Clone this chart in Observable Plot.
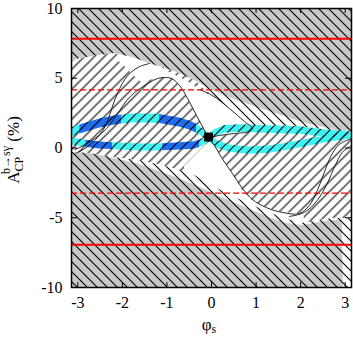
<!DOCTYPE html>
<html><head><meta charset="utf-8">
<script src="https://cdn.jsdelivr.net/npm/d3@7"></script>
<script src="https://cdn.jsdelivr.net/npm/@observablehq/plot@0.6"></script>
<style>body{margin:0;background:#fff}svg{display:block}</style>
</head><body><div id="chart"></div>
<script>
const PI = Math.PI;
const xDomain = [-PI, PI];
const yDomain = [-10, 10];
const xTicks = [-3, -2, -1, 0, 1, 2, 3];
const yTicks = [-10, -5, 0, 5, 10];

// excluded (gray) region boundaries
const grayUpX = [-PI, -2.955, -2.507, -2.172, -1.769, -1.388, -1.097, -0.716, -0.336, 0.022, 0.560, 1.298, 2.037, 2.798, PI];
const grayUpY = [6.13, 6.42, 6.63, 6.77, 6.49, 6.06, 5.77, 5.34, 4.77, 4.12, 3.41, 2.62, 1.83, 1.25, 1.18];
const grayLoX = [-PI, -2.731, -2.283, -1.679, -1.097, -0.560, -0.201, 0.179, 0.560, 0.918, 1.298, 1.679, 2.037, 2.418, 2.709, 2.933, 2.96, PI];
const grayLoY = [-0.32, -0.39, -0.68, -1.11, -1.76, -2.40, -2.90, -3.48, -3.98, -4.48, -4.98, -5.41, -5.56, -5.34, -5.20, -5.20, -10, -10];

// "\\" hatched region boundaries
const hatchUpX = [-PI, -2.955, -2.507, -2.172, -1.769, -1.388, -1.097, -0.716, -0.336, -0.201, 0.022, 0.403, 0.739, 0.918, 1.10, 1.50, 1.97, 2.64, PI];
const hatchUpY = [6.13, 6.42, 6.63, 6.77, 6.49, 6.06, 5.77, 5.34, 4.77, 4.30, 3.76, 2.83, 1.90, 1.45, 1.55, 1.60, 1.55, 1.25, 1.10];
const hatchLoX = [-PI, -2.731, -2.283, -1.679, -1.164, -0.716, -0.381, -0.157, 0.179, 0.560, 0.918, 1.298, 1.679, 2.037, 2.418, 2.709, PI];
const hatchLoY = [-0.32, -0.39, -0.62, -0.90, -1.20, -1.60, -1.95, -2.40, -3.00, -3.60, -4.10, -4.65, -5.10, -5.40, -5.20, -5.05, -5.05];

// allowed (unhatched) lenses
const lensAX = [-2.104, -1.948, -1.724, -1.567, -1.388, -1.097, -0.895, -0.716, -0.537, -0.336, -0.112, 0, 0.291, 0.627, 0.851, 0.963];
const lensALo = [6.27, 5.84, 5.13, 4.70, 4.84, 5.05, 5.05, 4.48, 3.55, 2.33, 1.04, 0.75, 0.90, 1.04, 1.18, 1.33];
const lensAHi = [6.70, 6.70, 6.56, 6.34, 6.06, 5.70, 5.34, 5.05, 4.77, 4.34, 3.91, 3.76, 3.19, 2.26, 1.68, 1.40];
const lensBX = [-0.604, -0.381, -0.157, 0, 0.179, 0.470, 0.694, 0.918, 1.231, 1.589, 1.970, 2.082];
const lensBHi = [-1.33, -0.61, 0.11, 0.54, -0.39, -1.83, -3.05, -3.76, -4.27, -4.62, -4.70, -4.91];
const lensBLo = [-1.97, -2.47, -2.90, -3.19, -3.55, -3.98, -4.27, -4.55, -4.91, -5.27, -5.48, -5.48];

// thin contour curves
const curve1X = [-3.045, -2.843, -2.619, -2.440, -2.328, -2.239, -2.149, -2.059, -1.948, -1.813, -1.612, -1.388];
const curve1Y = [-0.39, -0.04, 0.54, 1.25, 1.97, 2.83, 3.62, 4.27, 4.91, 5.41, 5.84, 6.06];
const curve2X = [-3.067, -2.955, -2.798, -2.619, -2.351, -2.216, -2.059, -1.903, -1.724, -1.567, -1.388, -1.209, -1.052, -0.895, -0.716, -0.537, -0.336, -0.179, -0.067, 0.067, 0.224, 0.470, 0.694, 0.918, 1.231, 1.589, 1.970, 2.194, 2.373, 2.530, 2.686, 2.866, PI];
const curve2Y = [-0.11, 0.04, 0.32, 0.68, 1.40, 1.97, 2.69, 3.41, 3.98, 4.34, 4.70, 4.98, 5.05, 4.98, 4.48, 3.55, 2.33, 1.40, 0.75, 0.18, -0.68, -1.83, -2.90, -3.69, -4.27, -4.62, -4.70, -4.12, -3.05, -1.76, -0.54, 0.25, 0.68];
const curve3X = [-0.269, 0.022, 0.403, 0.739, 0.918, 0.851, 0.515, 0.179, -0.067];
const curve3Y = [4.19, 3.76, 2.83, 1.90, 1.40, 1.18, 1.04, 0.90, 0.75];
const curve4X = [1.746, 2.082, 2.373, 2.597, 2.776, 2.933, PI];
const curve4Y = [-4.91, -4.62, -3.76, -2.54, -1.25, -0.32, 0.18];

// reference lines
const redSolid = [7.83, -6.94];
const redDashed = [4.17, -3.24];

// bands: centre, half-width, dark-blue stretches
const bandAX = [-PI, -2.955, -2.731, -2.507, -2.172, -2.015, -1.769, -1.388, -1.164, -1.097, -0.716, -0.492, -0.336, -0.269, -0.067, 0.134, 0.403, 0.851, 1.298, 1.746, 2.194, 2.642, PI];
const bandAY = [1.11, 1.33, 1.54, 1.76, 1.97, 2.04, 2.11, 2.11, 2.08, 2.04, 1.83, 1.61, 1.40, 1.25, 0.75, 0.25, -0.04, -0.18, -0.11, 0.11, 0.39, 0.68, 0.90];
const bandAW = [0.32, 0.32, 0.32, 0.32, 0.32, 0.32, 0.32, 0.32, 0.32, 0.32, 0.32, 0.32, 0.32, 0.30, 0.28, 0.27, 0.26, 0.26, 0.26, 0.26, 0.25, 0.25, 0.25];
const bandABlue = [[-2.955, -2.015], [-1.164, -0.336]];
const bandBX = [-PI, -2.843, -2.507, -2.059, -1.612, -1.164, -0.716, -0.381, -0.201, -0.067, 0.067, 0.291, 0.627, 1.231, 1.970, 2.530, PI];
const bandBY = [0.47, 0.32, 0.18, 0.11, 0.04, 0.04, 0.11, 0.18, 0.39, 0.68, 1.04, 1.33, 1.40, 1.33, 1.25, 1.04, 0.90];
const bandBW = [0.25, 0.25, 0.25, 0.25, 0.25, 0.25, 0.26, 0.27, 0.27, 0.27, 0.27, 0.27, 0.27, 0.27, 0.27, 0.26, 0.25];
const bandBBlue = [[-2.82, -2.22], [-1.097, -0.269]];

// best-fit point
const pointX = [-0.067];
const pointY = [0.79];

const CYAN = "#3cf4f4", BLUE = "#1e6ef2", GRAY = "#c8c8c8";
const FONT = "'Liberation Serif', 'Times New Roman', serif";

const tbl = (xs, ys) => xs.map((x, i) => ({x, y: ys[i]}));
const tbl3 = (xs, lo, hi) => xs.map((x, i) => ({x, lo: lo[i], hi: hi[i]}));

function bandRows(xs, ys, ws, blue, name) {
  let pts = xs.map((x, i) => ({x, y: ys[i], w: ws[i]}));
  for (const b of blue.flat()) {
    for (let i = 0; i < pts.length - 1; i++) {
      const a = pts[i], c = pts[i + 1];
      if (a.x < b && b < c.x) {
        const t = (b - a.x) / (c.x - a.x);
        pts.splice(i + 1, 0, {x: b, y: a.y + t * (c.y - a.y), w: a.w + t * (c.w - a.w)});
        break;
      }
    }
  }
  const edges = [xs[0], ...blue.flat(), xs[xs.length - 1]];
  const rows = [];
  for (let k = 0; k < edges.length - 1; k++) {
    const lo = edges[k], hi = edges[k + 1];
    const color = k % 2 === 1 ? BLUE : CYAN;
    for (const p of pts) if (p.x >= lo - 1e-9 && p.x <= hi + 1e-9)
      rows.push({x: p.x, lo: p.y - p.w, hi: p.y + p.w, seg: name + k, color});
  }
  return rows;
}
const bands = [...bandRows(bandAX, bandAY, bandAW, bandABlue, "A"), ...bandRows(bandBX, bandBY, bandBW, bandBBlue, "B")];

const W = 353, H = 338, mL = 71, mR = 2, mT = 8, mB = 51;
const fw = W - mL - mR, fh = H - mT - mB;

const svg = Plot.plot({
  width: W, height: H,
  marginLeft: mL, marginRight: mR, marginTop: mT, marginBottom: mB,
  style: {fontFamily: FONT, fontSize: "16px", background: "white", color: "black"},
  x: {domain: xDomain},
  y: {domain: yDomain},
  marks: [
    Plot.frame({fill: "url(#hatchF)"}),
    Plot.areaY(tbl3(lensAX, lensALo, lensAHi), {x: "x", y1: "lo", y2: "hi", fill: "white", clip: true}),
    Plot.areaY(tbl3(lensBX, lensBLo, lensBHi), {x: "x", y1: "lo", y2: "hi", fill: "white", clip: true}),
    Plot.areaY(tbl(hatchUpX, hatchUpY), {x: "x", y1: "y", y2: yDomain[1], fill: "white", clip: true}),
    Plot.areaY(tbl(hatchLoX, hatchLoY), {x: "x", y1: yDomain[0], y2: "y", fill: "white", clip: true}),
    Plot.areaY(tbl(grayUpX, grayUpY), {x: "x", y1: "y", y2: yDomain[1], fill: GRAY, clip: true}),
    Plot.areaY(tbl(grayLoX, grayLoY), {x: "x", y1: yDomain[0], y2: "y", fill: GRAY, clip: true}),
    Plot.areaY(tbl(hatchUpX, hatchUpY), {x: "x", y1: "y", y2: yDomain[1], fill: "url(#hatchB)", clip: true}),
    Plot.areaY(tbl(hatchLoX, hatchLoY), {x: "x", y1: yDomain[0], y2: "y", fill: "url(#hatchB)", clip: true}),
    Plot.areaY(bands, {x: "x", y1: "lo", y2: "hi", z: "seg", fill: "color", clip: true}),
    Plot.areaY(bands, {x: "x", y1: "lo", y2: "hi", z: "seg", fill: "url(#hatchF)", clip: true}),
    Plot.line(tbl(curve1X, curve1Y), {x: "x", y: "y", stroke: "#111", strokeWidth: 0.9, curve: "catmull-rom", clip: true}),
    Plot.line(tbl(curve2X, curve2Y), {x: "x", y: "y", stroke: "#111", strokeWidth: 0.9, curve: "catmull-rom", clip: true}),
    Plot.line(tbl(curve3X, curve3Y), {x: "x", y: "y", stroke: "#111", strokeWidth: 0.9, curve: "catmull-rom", clip: true}),
    Plot.line(tbl(curve4X, curve4Y), {x: "x", y: "y", stroke: "#111", strokeWidth: 0.9, curve: "catmull-rom", clip: true}),
    Plot.ruleY(redSolid, {stroke: "#ff0000", strokeWidth: 2}),
    Plot.ruleY(redDashed, {stroke: "#ff0000", strokeWidth: 1.2, strokeDasharray: "6,3"}),
    Plot.dot(tbl(pointX, pointY), {x: "x", y: "y", symbol: "square", r: 5, fill: "black"}),
    Plot.frame({stroke: "black", strokeWidth: 1.5}),
    Plot.ruleX(xTicks, {insetTop: fh - 5, stroke: "black"}),
    Plot.ruleX(xTicks, {insetBottom: fh - 5, stroke: "black"}),
    Plot.ruleY(yTicks, {insetRight: fw - 6, stroke: "black"}),
    Plot.ruleY(yTicks, {insetLeft: fw - 6, stroke: "black"}),
    Plot.axisX({ticks: xTicks, tickSize: 0, tickPadding: 9, tickFormat: d => `${d}`, label: null, fontFamily: FONT, fontSize: 16}),
    Plot.axisY({ticks: yTicks, tickSize: 0, tickPadding: 9, tickFormat: d => `${d}`, label: null, fontFamily: FONT, fontSize: 16})
  ]
});

const s = 10;
const defs = d3.select(svg).insert("defs", ":first-child");
defs.append("pattern").attr("id", "hatchF").attr("patternUnits", "userSpaceOnUse").attr("width", s).attr("height", s)
  .append("path").attr("d", `M0,${s} L${s},0 M-1,1 L1,-1 M${s-1},${s+1} L${s+1},${s-1}`)
  .attr("stroke", "#000").attr("stroke-width", 1.1).attr("fill", "none");
defs.append("pattern").attr("id", "hatchB").attr("patternUnits", "userSpaceOnUse").attr("width", s).attr("height", s)
  .append("path").attr("d", `M0,0 L${s},${s} M-1,${s-1} L1,${s+1} M${s-1},-1 L${s+1},1`)
  .attr("stroke", "#000").attr("stroke-width", 1.1).attr("fill", "none");

// axis titles
const xl = d3.select(svg).append("text").attr("x", 209).attr("y", 330).attr("text-anchor", "middle")
  .attr("font-family", FONT).attr("font-size", 17);
xl.append("tspan").text("φ");
xl.append("tspan").attr("font-size", 12).attr("dy", 3).text("s");

const yl = d3.select(svg).append("text").attr("transform", "translate(19,150) rotate(-90)")
  .attr("text-anchor", "middle").attr("font-family", FONT).attr("font-size", 17);
yl.append("tspan").text("A");
yl.append("tspan").attr("font-size", 12).attr("dy", 4).text("CP");
yl.append("tspan").attr("font-size", 12).attr("dx", -17).attr("dy", -13).text("b→sγ");
yl.append("tspan").attr("dy", 9).text(" (%)");

document.getElementById("chart").appendChild(svg);
</script>
</body></html>
